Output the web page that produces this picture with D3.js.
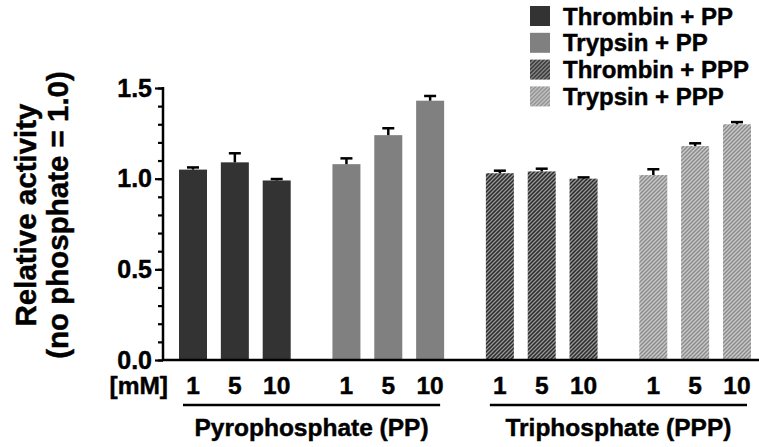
<!DOCTYPE html>
<html>
<head>
<meta charset="utf-8">
<script src="https://cdn.jsdelivr.net/npm/d3@7"></script>
<style>
  body { margin: 0; background: #fff; }
  svg { display: block; font-family: "Liberation Sans", Arial, sans-serif; font-weight: bold; }
  svg text { stroke: #000; stroke-width: 0.45px; }
</style>
</head>
<body>
<svg id="chart" width="759" height="447"></svg>
<script>
// data
const series = ["Thrombin + PP", "Trypsin + PP", "Thrombin + PPP", "Trypsin + PPP"];
const doses = ["1", "5", "10"];
const values = [
    [1.05, 1.09, 0.99],
    [1.08, 1.24, 1.43],
    [1.03, 1.04, 1.00],
    [1.02, 1.18, 1.30]
];
const errors = [
    [0.012, 0.05, 0.008],
    [0.032, 0.038, 0.026],
    [0.014, 0.015, 0.007],
    [0.032, 0.015, 0.012]
];
const groupLabels = ["Pyrophosphate (PP)", "Triphosphate (PPP)"];
const yTicks = [0, 0.5, 1.0, 1.5];

const fills = ["#333333", "#808080", "url(#hatchDark)", "url(#hatchLight)"];

const svg = d3.select("#chart");

// hatch patterns
const defs = svg.append("defs");
function hatch(id, bg, fg) {
    const p = defs.append("pattern").attr("id", id)
        .attr("patternUnits", "userSpaceOnUse").attr("width", 4).attr("height", 4);
    p.append("rect").attr("width", 4).attr("height", 4).attr("fill", bg);
    p.append("path").attr("d", "M-1,1 l2,-2 M0,4 l4,-4 M3,5 l2,-2")
        .attr("stroke", fg).attr("stroke-width", 1.3);
}
hatch("hatchDark", "#2b2b2b", "#979797");
hatch("hatchLight", "#8c8c8c", "#cacaca");

// scales
const gapSlots = 2 / 3;
const slot = (g, i) => g * (3 + gapSlots) + i;
const x = d3.scaleLinear().domain([0, slot(3, 2)]).range([193, 737]);
const y = d3.scaleLinear().domain([0, 1.5]).range([360, 88]);
const barW = 28;

// flatten
const bars = [];
values.forEach((row, g) => row.forEach((v, i) => {
    bars.push({ g, i, v, e: errors[g][i] });
}));

// bars
svg.append("g").selectAll("rect").data(bars).join("rect")
    .attr("x", d => x(slot(d.g, d.i)) - barW / 2)
    .attr("y", d => y(d.v))
    .attr("width", barW)
    .attr("height", d => y(0) - y(d.v))
    .attr("fill", d => fills[d.g]);

// error bars (upper only)
const eb = svg.append("g").attr("stroke", "#000").attr("stroke-width", 2.5);
eb.selectAll("line.v").data(bars).join("line").attr("class", "v")
    .attr("x1", d => x(slot(d.g, d.i))).attr("x2", d => x(slot(d.g, d.i)))
    .attr("y1", d => y(d.v)).attr("y2", d => y(d.v + d.e));
eb.selectAll("line.c").data(bars).join("line").attr("class", "c")
    .attr("x1", d => x(slot(d.g, d.i)) - 6).attr("x2", d => x(slot(d.g, d.i)) + 6)
    .attr("y1", d => y(d.v + d.e)).attr("y2", d => y(d.v + d.e));

// y axis
const axisX = 163;
const yAxis = svg.append("g").attr("transform", `translate(${axisX},0)`);
yAxis.call(d3.axisLeft(y).tickValues(d3.range(0, 1.51, 0.1)).tickSize(5).tickFormat(""))
    .call(g => g.select(".domain").remove())
    .call(g => g.selectAll("line").attr("stroke-width", 2.2));
yAxis.append("g")
    .call(d3.axisLeft(y).tickValues(yTicks).tickSize(8).tickPadding(3).tickFormat(d3.format(".1f")))
    .call(g => g.select(".domain").remove())
    .call(g => g.selectAll("line").attr("stroke-width", 2.2))
    .call(g => g.selectAll("text").attr("font-size", 25).attr("fill", "#000")
        .attr("font-family", "Liberation Sans, Arial, sans-serif").attr("font-weight", "bold")
        .attr("dy", "0.33em"));
svg.append("line").attr("x1", axisX).attr("x2", axisX).attr("y1", y(1.5) - 1).attr("y2", y(0))
    .attr("stroke", "#000").attr("stroke-width", 2.5);
// x axis baseline
svg.append("line").attr("x1", axisX).attr("x2", 759).attr("y1", y(0)).attr("y2", y(0))
    .attr("stroke", "#000").attr("stroke-width", 2.5);

// y title
const title = svg.append("text").attr("transform", "translate(36,215) rotate(-90)")
    .attr("text-anchor", "middle").attr("font-size", 29.5).attr("fill", "#000");
title.append("tspan").attr("x", 0).attr("y", 0).text("Relative activity");
title.append("tspan").attr("x", 0).attr("y", 32).text("(no phosphate = 1.0)");

// dose labels
svg.append("text").attr("x", 168).attr("y", 394).attr("text-anchor", "end")
    .attr("font-size", 24.5).text("[mM]");
svg.append("g").selectAll("text").data(bars).join("text")
    .attr("x", d => x(slot(d.g, d.i))).attr("y", 394)
    .attr("text-anchor", "middle").attr("font-size", 24.5)
    .text(d => doses[d.i]);

// group brackets
groupLabels.forEach((lab, k) => {
    const x1 = x(slot(2 * k, 0)) - 10, x2 = x(slot(2 * k + 1, 2)) + 10;
    svg.append("line").attr("x1", x1).attr("x2", x2).attr("y1", 405).attr("y2", 405)
        .attr("stroke", "#000").attr("stroke-width", 2.5);
    svg.append("text").attr("x", (x1 + x2) / 2).attr("y", 436).attr("text-anchor", "middle")
        .attr("font-size", 24.5).text(lab);
});

// legend
const legend = svg.append("g").attr("transform", "translate(530,6)");
const rows = legend.selectAll("g").data(series).join("g")
    .attr("transform", (d, i) => `translate(0,${i * 26.8})`);
rows.append("rect").attr("width", 20).attr("height", 20).attr("fill", (d, i) => fills[i]);
rows.append("text").attr("x", 33).attr("y", 18.5).attr("font-size", 24).text(d => d);
</script>
</body>
</html>
